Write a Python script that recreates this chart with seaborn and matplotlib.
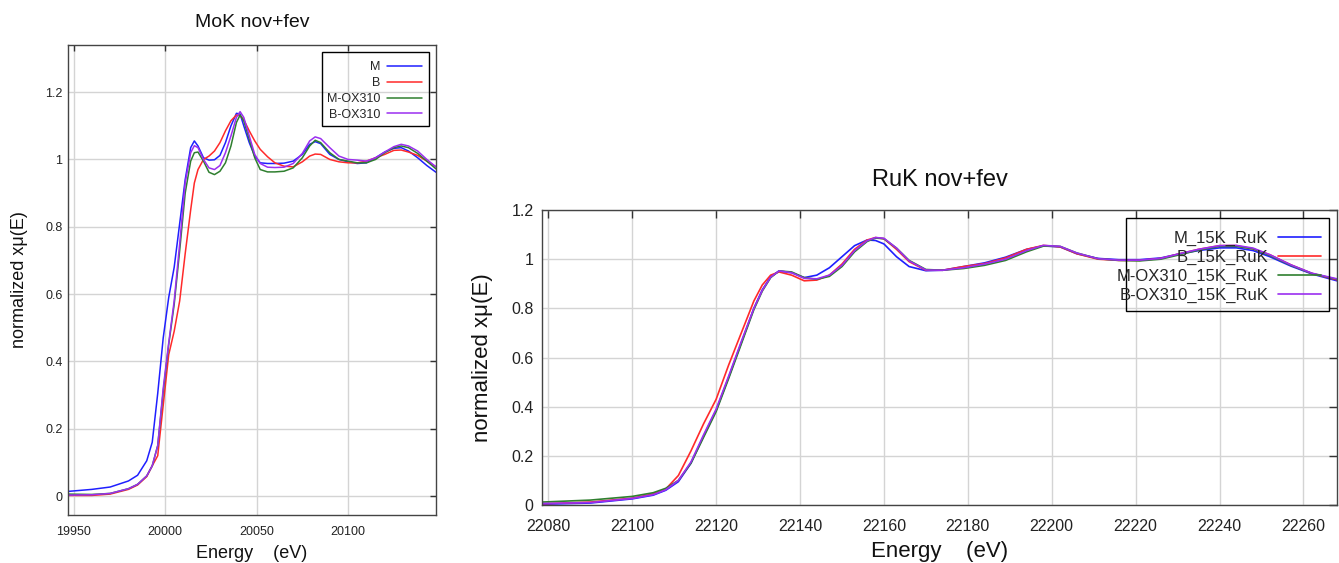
import matplotlib
matplotlib.use("Agg")
import matplotlib.pyplot as plt
from matplotlib.patches import Rectangle
from matplotlib.ticker import FuncFormatter
import numpy as np
import pandas as pd
import seaborn as sns

# ---- Mo K edge (left panel) ----
mo_energy = [19947, 19960, 19970, 19980, 19985, 19990, 19993, 19996, 19999, 20002,
             20005, 20008, 20011, 20014, 20016, 20018, 20021, 20024, 20027, 20030,
             20033, 20036, 20039, 20041, 20043, 20046, 20049, 20052, 20056, 20060,
             20065, 20070, 20075, 20079, 20082, 20085, 20090, 20095, 20100, 20105,
             20110, 20115, 20120, 20125, 20129, 20133, 20138, 20143, 20148]
mo_M = [0.014, 0.020, 0.027, 0.045, 0.062, 0.105, 0.16, 0.305, 0.47, 0.59,
        0.68, 0.81, 0.94, 1.035, 1.055, 1.04, 1.005, 0.998, 0.999, 1.012,
        1.05, 1.10, 1.137, 1.135, 1.10, 1.05, 1.01, 0.99, 0.988, 0.988,
        0.989, 0.995, 1.015, 1.045, 1.053, 1.047, 1.015, 1.0, 0.993, 0.988,
        0.99, 1.005, 1.022, 1.033, 1.035, 1.025, 1.005, 0.982, 0.962]
mo_B = [0.002, 0.002, 0.006, 0.02, 0.033, 0.058, 0.09, 0.12, 0.27, 0.42,
        0.49, 0.58, 0.72, 0.85, 0.93, 0.97, 1.0, 1.01, 1.025, 1.05,
        1.085, 1.115, 1.132, 1.13, 1.118, 1.085, 1.055, 1.03, 1.008, 0.99,
        0.98, 0.978, 0.993, 1.01, 1.016, 1.015, 1.0, 0.993, 0.99, 0.99,
        0.995, 1.005, 1.015, 1.027, 1.028, 1.022, 1.012, 0.995, 0.978]
mo_M_OX = [0.006, 0.005, 0.008, 0.022, 0.035, 0.06, 0.09, 0.15, 0.31, 0.45,
           0.57, 0.73, 0.90, 0.995, 1.02, 1.022, 0.995, 0.962, 0.955, 0.965,
           0.99, 1.04, 1.11, 1.132, 1.115, 1.06, 1.005, 0.97, 0.963, 0.963,
           0.965, 0.975, 1.005, 1.04, 1.057, 1.05, 1.02, 1.0, 0.995, 0.99,
           0.99, 1.0, 1.02, 1.035, 1.04, 1.035, 1.018, 0.995, 0.972]
mo_B_OX = [0.003, 0.004, 0.008, 0.022, 0.035, 0.06, 0.09, 0.15, 0.32, 0.455,
           0.58, 0.75, 0.93, 1.02, 1.041, 1.035, 1.0, 0.975, 0.97, 0.982,
           1.02, 1.07, 1.125, 1.142, 1.125, 1.07, 1.015, 0.988, 0.977, 0.976,
           0.977, 0.988, 1.018, 1.055, 1.067, 1.062, 1.035, 1.01, 1.0, 0.998,
           0.995, 1.005, 1.022, 1.038, 1.045, 1.04, 1.025, 1.0, 0.978]
mo_labels = ["M", "B", "M-OX310", "B-OX310"]

# ---- Ru K edge (right panel) ----
ru_energy = [22078.5, 22090, 22100, 22105, 22108, 22111, 22114, 22117, 22120, 22123,
             22126, 22129, 22131, 22133, 22135, 22138, 22141, 22144, 22147, 22150,
             22153, 22156, 22158, 22160, 22163, 22166, 22170, 22174, 22179, 22184,
             22189, 22194, 22198, 22202, 22206, 22211, 22216, 22221, 22226, 22230,
             22235, 22240, 22244, 22248, 22252, 22257, 22262, 22268]
ru_M = [0.003, 0.008, 0.025, 0.04, 0.06, 0.095, 0.17, 0.28, 0.385, 0.52,
        0.66, 0.80, 0.875, 0.928, 0.952, 0.945, 0.925, 0.935, 0.965, 1.01,
        1.055, 1.078, 1.076, 1.062, 1.01, 0.97, 0.953, 0.955, 0.97, 0.985,
        1.008, 1.04, 1.054, 1.05, 1.022, 1.003, 0.998, 0.998, 1.005, 1.02,
        1.035, 1.046, 1.046, 1.035, 1.01, 0.972, 0.94, 0.912]
ru_B = [0.005, 0.012, 0.028, 0.045, 0.065, 0.12, 0.22, 0.33, 0.43, 0.57,
        0.70, 0.83, 0.895, 0.935, 0.948, 0.935, 0.912, 0.915, 0.935, 0.98,
        1.04, 1.078, 1.088, 1.083, 1.04, 0.99, 0.955, 0.955, 0.97, 0.982,
        1.005, 1.04, 1.056, 1.05, 1.022, 1.0, 0.995, 0.995, 1.003, 1.02,
        1.04, 1.055, 1.055, 1.042, 1.018, 0.977, 0.942, 0.916]
ru_M_OX = [0.012, 0.02, 0.035, 0.05, 0.068, 0.10, 0.17, 0.275, 0.38, 0.515,
           0.655, 0.795, 0.87, 0.925, 0.952, 0.948, 0.925, 0.918, 0.93, 0.97,
           1.03, 1.072, 1.086, 1.083, 1.045, 0.995, 0.958, 0.955, 0.962, 0.975,
           0.995, 1.03, 1.053, 1.052, 1.025, 1.002, 0.995, 0.993, 1.0, 1.016,
           1.037, 1.052, 1.052, 1.042, 1.015, 0.975, 0.942, 0.918]
ru_B_OX = [0.006, 0.01, 0.027, 0.042, 0.062, 0.10, 0.175, 0.285, 0.39, 0.525,
           0.665, 0.80, 0.873, 0.927, 0.952, 0.945, 0.922, 0.92, 0.935, 0.975,
           1.035, 1.075, 1.088, 1.085, 1.045, 0.993, 0.956, 0.955, 0.965, 0.98,
           1.0, 1.035, 1.056, 1.052, 1.025, 1.002, 0.996, 0.996, 1.003, 1.02,
           1.04, 1.055, 1.056, 1.045, 1.018, 0.977, 0.943, 0.92]
ru_labels = ["M_15K_RuK", "B_15K_RuK", "M-OX310_15K_RuK", "B-OX310_15K_RuK"]

colors = ["#1f1fff", "#ff2a2a", "#2f7f2f", "#9b2ff0"]


def long_frame(energy, series, labels):
    parts = []
    for vals, lab in zip(series, labels):
        parts.append(pd.DataFrame({"E": energy, "mu": vals, "sample": lab}))
    return pd.concat(parts, ignore_index=True)


def style_axes(ax, fs_tick, tick_len, pad_x, pad_y):
    ax.tick_params(direction="in", top=True, right=True, length=tick_len,
                   width=1, color="#333333", labelsize=fs_tick, labelcolor="#222222")
    ax.tick_params(axis="x", pad=pad_x)
    ax.tick_params(axis="y", pad=pad_y)
    ax.grid(True, color="#d4d4d4", linewidth=1.0)
    ax.set_axisbelow(True)
    for sp in ax.spines.values():
        sp.set_color("#444444")
        sp.set_linewidth(1.0)
    ax.yaxis.set_major_formatter(FuncFormatter(lambda v, p: f"{v:g}"))


def gnuplot_key(ax, anchor, box, fs, hlen, spacing):
    # legend entries right-aligned, sample line after the text, plus a plain box
    h, l = ax.get_legend_handles_labels()
    ax.legend(h, l, loc="upper right", bbox_to_anchor=anchor, borderaxespad=0,
              borderpad=0, markerfirst=False, fontsize=fs, handlelength=hlen,
              labelspacing=spacing, handletextpad=0.55, frameon=False)
    x0, y0, x1, y1 = box
    ax.add_patch(Rectangle((x0, y0), x1 - x0, y1 - y0, transform=ax.transAxes,
                           fill=False, edgecolor="black", linewidth=1.0, zorder=5))


sns.set_theme(style="white")
plt.rcParams["font.family"] = ["Liberation Sans", "DejaVu Sans"]

fig = plt.figure(figsize=(13.39, 5.63), dpi=100)
ax1 = fig.add_axes([0.0508, 0.0853, 0.2748, 0.8348])
ax2 = fig.add_axes([0.4048, 0.1030, 0.5937, 0.5240])

# left panel
df_mo = long_frame(mo_energy, [mo_M, mo_B, mo_M_OX, mo_B_OX], mo_labels)
sns.lineplot(data=df_mo, x="E", y="mu", hue="sample", palette=colors,
             sort=False, estimator=None, linewidth=1.1, ax=ax1)
ax1.set_xlim(19947, 20148)
ax1.set_ylim(-0.056, 1.34)
ax1.set_xticks([19950, 20000, 20050, 20100])
ax1.set_yticks([0, 0.2, 0.4, 0.6, 0.8, 1.0, 1.2])
style_axes(ax1, 9, 4, 8, 4)
ax1.set_xlabel("Energy    (eV)", fontsize=13, labelpad=5, color="#111111")
ax1.set_ylabel("normalized xμ(E)", fontsize=13, labelpad=12, color="#111111")
ax1.set_title("MoK nov+fev", fontsize=14, pad=13, color="#111111")
gnuplot_key(ax1, (0.962, 0.965), (0.690, 0.828, 0.981, 0.985), 9, 2.8, 0.3)

# right panel
df_ru = long_frame(ru_energy, [ru_M, ru_B, ru_M_OX, ru_B_OX], ru_labels)
sns.lineplot(data=df_ru, x="E", y="mu", hue="sample", palette=colors,
             sort=False, estimator=None, linewidth=1.2, ax=ax2)
ax2.set_xlim(22078.5, 22268)
ax2.set_ylim(0, 1.2)
ax2.set_xticks(np.arange(22080, 22261, 20))
ax2.set_yticks([0, 0.2, 0.4, 0.6, 0.8, 1.0, 1.2])
style_axes(ax2, 11.5, 5.5, 10, 6)
ax2.set_xlabel("Energy    (eV)", fontsize=16, labelpad=5, color="#111111")
ax2.set_ylabel("normalized xμ(E)", fontsize=16, labelpad=13, color="#111111")
ax2.set_title("RuK nov+fev", fontsize=17, pad=17, color="#111111")
gnuplot_key(ax2, (0.980, 0.930), (0.7346, 0.6576, 0.990, 0.973), 12, 2.6, 0.24)

fig.savefig("out.png", dpi=100)
